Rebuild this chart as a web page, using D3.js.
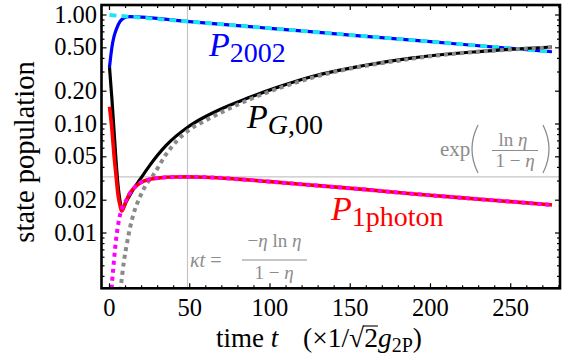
<!DOCTYPE html>
<html>
<head>
<meta charset="utf-8">
<script src="https://cdn.jsdelivr.net/npm/d3@7"></script>
<style>
  body { margin: 0; background: #fff; }
  svg { display: block; }
</style>
</head>
<body>
<div id="chart"></div>
<script>
// time axis values (units of 1/sqrt(2) g2P) and populations
const blueT = [0, 0.75, 1.56, 2.8, 4.5, 6.5, 8.6, 12.3, 50, 100, 150, 200, 250, 275.7];
const blueV = [0.333, 0.415, 0.512, 0.632, 0.755, 0.868, 0.932, 0.966, 0.869, 0.755, 0.655, 0.569, 0.494, 0.460];

const cyanT = [0, 50, 100, 150, 200, 250, 275.7];
const cyanV = [1.0, 0.869, 0.755, 0.655, 0.569, 0.494, 0.460];

const blackT = [0, 1.56, 2.8, 4.05, 5.3, 6.5, 7.8, 10, 14.6, 19, 25.2, 35, 48.9, 56.4, 68.8, 85.7, 105, 126.8, 155, 189, 230, 275.7];
const blackV = [0.333, 0.166, 0.088, 0.047, 0.0276, 0.020, 0.0165, 0.0188, 0.0249, 0.031, 0.042, 0.063, 0.094, 0.110, 0.136, 0.172, 0.218, 0.274, 0.337, 0.405, 0.462, 0.509];

const grayT = [6.0, 7.0, 9.0, 11, 12.8, 15, 19, 23, 27.3, 35, 42, 50, 60, 86, 127, 189, 275.7];
const grayV = [0.0025, 0.0032, 0.0055, 0.0082, 0.0112, 0.0150, 0.0215, 0.028, 0.034, 0.052, 0.070, 0.089, 0.108, 0.165, 0.268, 0.398, 0.505];

const redT = [0, 1.56, 2.8, 4.05, 5.3, 6.5, 7.6, 8.5, 10, 12.8, 16, 19, 24, 30.2, 40, 48.9, 60, 80, 100, 130, 160, 190, 220, 250, 275.7];
const redV = [0.144, 0.088, 0.052, 0.034, 0.0224, 0.0181, 0.0159, 0.0166, 0.0191, 0.0233, 0.0265, 0.0288, 0.0308, 0.0319, 0.0326, 0.0327, 0.0325, 0.0312, 0.0296, 0.0272, 0.0250, 0.0228, 0.0210, 0.0194, 0.0181];

const magentaT = [0.8, 1.4, 2.5, 3.6, 4.8, 6.2, 7.6, 9, 10, 12.8, 16, 19, 24, 30.2, 40, 48.9, 60, 80, 100, 130, 160, 190, 220, 250, 275.7];
const magentaV = [0.0022, 0.0032, 0.0050, 0.0075, 0.0105, 0.0138, 0.0165, 0.0185, 0.0195, 0.0233, 0.0265, 0.0288, 0.0308, 0.0319, 0.0326, 0.0327, 0.0325, 0.0312, 0.0296, 0.0272, 0.0250, 0.0228, 0.0210, 0.0194, 0.0181];

const xTicks = [0, 50, 100, 150, 200, 250];
const yTicks = [0.01, 0.02, 0.05, 0.1, 0.2, 0.5, 1.0];
const yTickLabels = ["0.01", "0.02", "0.05", "0.10", "0.20", "0.50", "1.00"];

const gridT = 48.6;     // kappa t = -eta ln eta / (1 - eta)
const gridV = 0.0327;   // exp(ln eta / (1 - eta))

const svg = d3.select("#chart").append("svg")
    .attr("width", 570)
    .attr("height", 362)
    .style("background-color", "white");

const x = d3.scaleLinear().domain([-4.98, 280.7]).range([101.5, 560]);
const y = d3.scaleLog().domain([0.00311, 1.2354]).range([288.3, 5]);

const [x0, x1] = x.range();
const [y0, y1] = y.range();

svg.append("clipPath").attr("id", "plot")
  .append("rect")
    .attr("x", x0).attr("y", y1)
    .attr("width", x1 - x0).attr("height", y0 - y1);

// guide lines
svg.append("line")
    .attr("x1", x(gridT)).attr("x2", x(gridT))
    .attr("y1", y1).attr("y2", y0)
    .attr("stroke", "#c4c4c4").attr("stroke-width", 1.2);
svg.append("line")
    .attr("x1", x0).attr("x2", x1)
    .attr("y1", y(gridV)).attr("y2", y(gridV))
    .attr("stroke", "#c4c4c4").attr("stroke-width", 1.2);

const line = d3.line()
    .x(d => x(d[0]))
    .y(d => y(d[1]))
    .curve(d3.curveMonotoneX);

const zip = (ts, vs) => ts.map((t, i) => [t, vs[i]]);

const curves = svg.append("g").attr("clip-path", "url(#plot)");

function draw(ts, vs, color, width, dash) {
  curves.append("path")
      .attr("d", line(zip(ts, vs)))
      .attr("fill", "none")
      .attr("stroke", color)
      .attr("stroke-width", width)
      .attr("stroke-dasharray", dash || null)
      .attr("stroke-linejoin", "round");
}

draw(blueT, blueV, "#0000ff", 3.2);
draw(cyanT, cyanV, "#19e6f5", 3.8, "7,5");
draw(blackT, blackV, "#000000", 3.2);
draw(grayT, grayV, "#8a8a8a", 4, "4,4");
draw(redT, redV, "#ff0000", 3.6);
draw(magentaT, magentaV, "#ff00ff", 4, "4,4");

// frame and ticks
svg.append("rect")
    .attr("x", x0).attr("y", y1)
    .attr("width", x1 - x0).attr("height", y0 - y1)
    .attr("fill", "none").attr("stroke", "#000").attr("stroke-width", 2.6);

const ticks = svg.append("g").attr("stroke", "#000").attr("stroke-width", 1.2);
d3.range(0, 281, 10).forEach(t => {
  const len = t % 50 === 0 ? 5 : 3;
  ticks.append("line").attr("x1", x(t)).attr("x2", x(t)).attr("y1", y0).attr("y2", y0 - len);
  ticks.append("line").attr("x1", x(t)).attr("x2", x(t)).attr("y1", y1).attr("y2", y1 + len);
});
const yMinor = [];
[0.001, 0.01, 0.1, 1].forEach(d => { for (let k = 1; k < 10; k++) yMinor.push(d * k); });
yMinor.filter(v => v >= 0.00311 && v <= 1.2354).forEach(v => {
  const len = yTicks.some(m => Math.abs(m - v) < 1e-9) ? 5 : 3;
  ticks.append("line").attr("x1", x0).attr("x2", x0 + len).attr("y1", y(v)).attr("y2", y(v));
  ticks.append("line").attr("x1", x1).attr("x2", x1 - len).attr("y1", y(v)).attr("y2", y(v));
});

svg.append("g").selectAll("text")
  .data(xTicks)
  .join("text")
    .attr("x", d => x(d))
    .attr("y", 316)
    .attr("text-anchor", "middle")
    .attr("font-size", 24.5)
    .text(d => d);

svg.append("g").selectAll("text")
  .data(yTicks)
  .join("text")
    .attr("x", 97)
    .attr("y", d => y(d) + 7.5)
    .attr("text-anchor", "end")
    .attr("font-size", 24.5)
    .text((d, i) => yTickLabels[i]);

// axis titles
svg.append("text")
    .attr("transform", "translate(34,152) rotate(-90)")
    .attr("text-anchor", "middle")
    .attr("font-size", 28.5)
    .text("state population");

const xt = svg.append("text").attr("x", 216).attr("y", 347).attr("font-size", 27);
xt.append("tspan").text("time ");
xt.append("tspan").attr("font-style", "italic").text("t");
const xu = svg.append("text").attr("x", 303).attr("y", 347).attr("font-size", 27.5);
xu.append("tspan").text("(×1/√");
xu.append("tspan").attr("class", "two").text("2");
xu.append("tspan").attr("font-style", "italic").text("g");
xu.append("tspan").attr("font-size", 20).attr("dy", 5).text("2P");
xu.append("tspan").attr("dy", -5).text(")");

// curve labels
function label(px, py, color, sub, subItalic) {
  const t = svg.append("text").attr("x", px).attr("y", py).attr("fill", color).attr("font-size", 34);
  t.append("tspan").attr("font-style", "italic").text("P");
  sub.forEach((s, i) => {
    t.append("tspan")
        .attr("font-size", 28)
        .attr("dy", i === 0 ? 6 : null)
        .attr("font-style", subItalic[i] ? "italic" : null)
        .text(s);
  });
}
label(209, 56, "#0000ff", ["2002"], [false]);
label(247, 128, "#000000", ["G", ",00"], [true, false]);
label(331, 220, "#ff0000", ["1photon"], [false]);

// annotations
const gc = "#8c8c8c";
svg.append("text").attr("x", 440).attr("y", 156).attr("font-size", 21).attr("fill", gc).text("exp");
svg.append("path").attr("d", "M478,125 Q466,149 478,173").attr("fill", "none").attr("stroke", gc).attr("stroke-width", 1.3);
svg.append("path").attr("d", "M543,125 Q555,149 543,173").attr("fill", "none").attr("stroke", gc).attr("stroke-width", 1.3);
const num1 = svg.append("text").attr("x", 513).attr("y", 146).attr("text-anchor", "middle").attr("font-size", 19).attr("fill", gc);
num1.append("tspan").text("ln ");
num1.append("tspan").attr("font-style", "italic").text("η");
svg.append("line").attr("x1", 492).attr("x2", 538).attr("y1", 150.5).attr("y2", 150.5).attr("stroke", gc).attr("stroke-width", 1);
const den1 = svg.append("text").attr("x", 515).attr("y", 167).attr("text-anchor", "middle").attr("font-size", 19).attr("fill", gc);
den1.append("tspan").text("1 − ");
den1.append("tspan").attr("font-style", "italic").text("η");

const kt = svg.append("text").attr("x", 190).attr("y", 267).attr("font-size", 20).attr("fill", gc);
kt.append("tspan").attr("font-style", "italic").text("κt");
kt.append("tspan").text(" =");
const num2 = svg.append("text").attr("x", 274.5).attr("y", 247).attr("text-anchor", "middle").attr("font-size", 19).attr("fill", gc);
num2.append("tspan").text("−");
num2.append("tspan").attr("font-style", "italic").text("η");
num2.append("tspan").text(" ln ");
num2.append("tspan").attr("font-style", "italic").text("η");
svg.append("line").attr("x1", 242).attr("x2", 307).attr("y1", 260).attr("y2", 260).attr("stroke", gc).attr("stroke-width", 1);
const den2 = svg.append("text").attr("x", 274).attr("y", 279).attr("text-anchor", "middle").attr("font-size", 19).attr("fill", gc);
den2.append("tspan").text("1 − ");
den2.append("tspan").attr("font-style", "italic").text("η");

// serif font on every text, set inline
svg.selectAll("text").style("font-family", '"Liberation Serif", serif');

// overbar of the square root, placed after the font is set
const two = xu.select(".two").node();
const tb = two.getExtentOfChar(0);
svg.append("line")
    .attr("x1", tb.x - 1).attr("x2", tb.x + tb.width)
    .attr("y1", tb.y + 4).attr("y2", tb.y + 4)
    .attr("stroke", "#000").attr("stroke-width", 1.1);
</script>
</body>
</html>
